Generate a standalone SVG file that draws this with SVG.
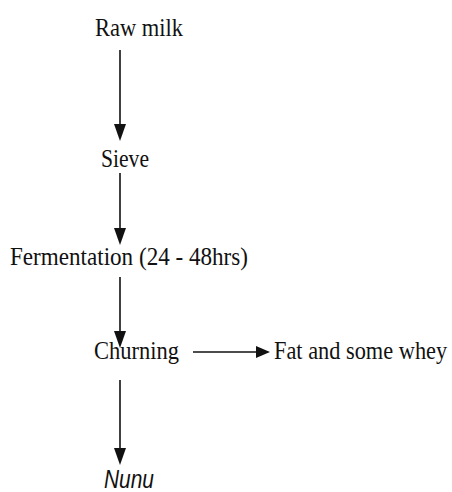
<svg xmlns="http://www.w3.org/2000/svg" width="452" height="492" viewBox="0 0 452 492">
<defs>
<style>
.t{font-family:"Liberation Serif","Times New Roman",serif;font-size:26px;fill:#111}
.i{font-family:"Liberation Sans",Arial,sans-serif;font-style:italic;font-size:25px;fill:#111}
.c{stroke:#111;stroke-width:1.6;fill:none}
</style>
<marker id="ah" markerUnits="userSpaceOnUse" markerWidth="18" markerHeight="13" refX="13" refY="6" orient="auto">
<path d="M0,0 L17,6 L0,12 z" fill="#111"/>
</marker>
<marker id="ahs" markerUnits="userSpaceOnUse" markerWidth="16" markerHeight="13" refX="10" refY="6" orient="auto">
<path d="M0,0 L14,6 L0,12 z" fill="#111"/>
</marker>
</defs>
<rect width="452" height="492" fill="#fff"/>
<g id="connectors">
<line class="c" x1="120" y1="50" x2="120" y2="137" marker-end="url(#ah)"/>
<line class="c" x1="120" y1="173" x2="120" y2="241" marker-end="url(#ah)"/>
<line class="c" x1="120" y1="277" x2="120" y2="344" marker-end="url(#ah)"/>
<line class="c" x1="120" y1="380" x2="120" y2="461" marker-end="url(#ah)"/>
<line class="c" x1="193" y1="352" x2="266" y2="352" marker-end="url(#ahs)"/>
</g>
<g id="raw-milk"><text class="t" x="95" y="36" textLength="88" lengthAdjust="spacingAndGlyphs">Raw milk</text></g>
<g id="sieve"><text class="t" x="101" y="167" textLength="48" lengthAdjust="spacingAndGlyphs">Sieve</text></g>
<g id="fermentation"><text class="t" x="10" y="265" textLength="238" lengthAdjust="spacingAndGlyphs">Fermentation (24 - 48hrs)</text></g>
<g id="churning"><text class="t" x="94" y="359" textLength="85" lengthAdjust="spacingAndGlyphs">Churning</text></g>
<g id="fat-whey"><text class="t" transform="translate(274 359) scale(0.86 1)" x="0" y="0">Fat and some whey</text></g>
<g id="nunu"><text class="i" x="104" y="488" textLength="50" lengthAdjust="spacingAndGlyphs">Nunu</text></g>
</svg>
